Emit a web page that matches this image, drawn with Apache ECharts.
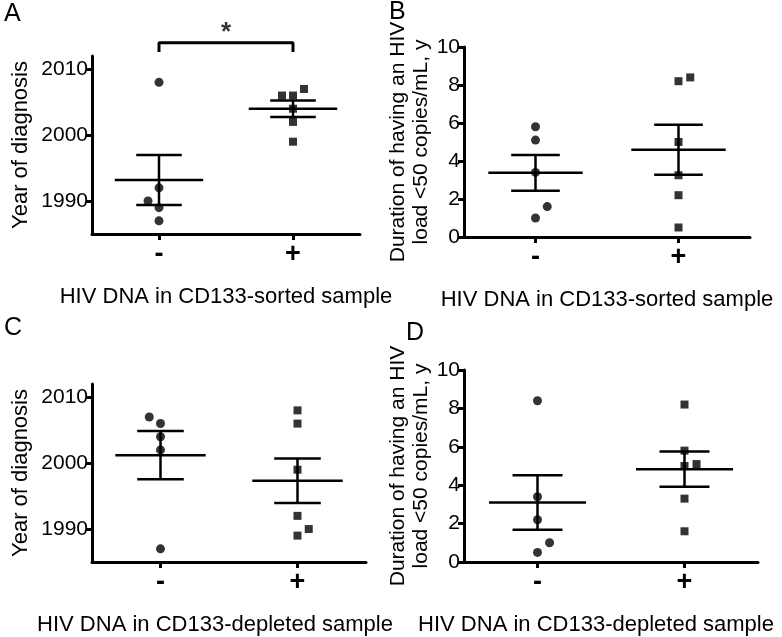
<!DOCTYPE html>
<html><head><meta charset="utf-8">
<script src="https://cdn.jsdelivr.net/npm/echarts@6/dist/echarts.min.js"></script>
<style>html,body{margin:0;padding:0;background:#fff}#c{width:782px;height:637px}</style>
</head><body><div id="c"></div>
<script>
// ---- data ----
const groupLabels = ['-', '+'];
const groupPos = [0.5, 1.5];
const yearTicks = [1990, 2000, 2010];
const durationTicks = [0, 2, 4, 6, 8, 10];

// Panel A: Year of diagnosis, CD133-sorted
const aNeg = [2008, 1992, 1990, 1989, 1987];
const aNegSlot = [0, 0, -1, 0, 0];
const aPos = [2006, 2006, 2007, 2004, 2002, 1999];
const aPosSlot = [-1, 0, 1, 0, 0, 0];
// Panel B: Duration <50 copies/mL, CD133-sorted
const bNeg = [5.8, 5.1, 3.4, 1.6, 1.0];
const bNegSlot = [0, 0, 0, 1, 0];
const bPos = [8.2, 8.4, 5.0, 3.25, 2.2, 0.5];
const bPosSlot = [0, 1, 0, 0, 0, 0];
// Panel C: Year of diagnosis, CD133-depleted
const cNeg = [2007, 2006, 2004, 2002, 1987];
const cNegSlot = [-1, 0, 0, 0, 0];
const cPos = [2008, 2006, 1999, 1992, 1990, 1989];
const cPosSlot = [0, 0, 0, 0, 1, 0];
// Panel D: Duration <50 copies/mL, CD133-depleted
const dNeg = [8.4, 3.4, 2.2, 1.0, 0.5];
const dNegSlot = [0, 0, 0, 1, 0];
const dPos = [8.2, 5.8, 5.0, 5.1, 3.3, 1.6];
const dPosSlot = [0, 0, 0, 1, 0, 0];

const sigBracketA = [[0.5, 2012.6], [0.5, 2014.0], [1.5, 2014.0], [1.5, 2012.6]];
const sigLabelA = '*';

// ---- helpers ----
const FONT = 'Liberation Sans, Arial, Helvetica, sans-serif';
const SLOT = 0.082;
function stats(arr) {
  const n = arr.length;
  const m = arr.reduce((a, b) => a + b, 0) / n;
  const v = arr.reduce((a, b) => a + (b - m) * (b - m), 0) / (n - 1);
  const sem = Math.sqrt(v / n);
  return [m, m - sem, m + sem];
}
function pts(vals, slots, g) {
  return vals.map((v, i) => [groupPos[g] + slots[i] * SLOT, v]);
}

const grids = [
  {left: 92, top: 56, width: 268, height: 178},
  {left: 464, top: 47, width: 286, height: 190},
  {left: 92, top: 384, width: 274, height: 181},
  {left: 464, top: 370, width: 294, height: 194}
];
const xTitles = ['HIV DNA in CD133-sorted sample', 'HIV DNA in CD133-sorted sample',
                 'HIV DNA in CD133-depleted sample', 'HIV DNA in CD133-depleted sample'];
const xTitleShift = [0, 0, 28, 30];
const yTitles = ['Year of diagnosis', 'Duration of having an HIV\nload <50 copies/mL, y',
                 'Year of diagnosis', 'Duration of having an HIV\nload <50 copies/mL, y'];
const panelData = [[aNeg, aNegSlot, aPos, aPosSlot], [bNeg, bNegSlot, bPos, bPosSlot],
                   [cNeg, cNegSlot, cPos, cPosSlot], [dNeg, dNegSlot, dPos, dPosSlot]];

const axisLineStyle = {color: '#000', width: 3};
const xAxes = grids.map((g, i) => ({
  type: 'value', gridIndex: i, min: 0, max: 2,
  name: xTitles[i], nameLocation: 'middle', nameGap: 52,
  nameTextStyle: {fontFamily: FONT, fontSize: 22, color: '#000', padding: [0, xTitleShift[i], 0, 0]},
  axisLine: {show: true, lineStyle: axisLineStyle},
  axisTick: {show: true, customValues: groupPos, length: 6, lineStyle: {color: '#000', width: 3}},
  axisLabel: {customValues: groupPos, margin: 7, fontFamily: FONT, fontSize: 27, fontWeight: 'bold', color: '#000',
    formatter: v => groupLabels[groupPos.indexOf(v)]},
  splitLine: {show: false}
}));
const yAxes = grids.map((g, i) => {
  const isYear = (i % 2 === 0);
  return {
    type: 'value', gridIndex: i,
    min: isYear ? 1985 : 0, max: isYear ? 2012 : 10,
    name: yTitles[i], nameLocation: 'middle', nameGap: isYear ? 60 : 25,
    nameTextStyle: {fontFamily: FONT, fontSize: isYear ? 22 : 21, color: '#000', lineHeight: 23},
    axisLine: {show: true, lineStyle: axisLineStyle},
    axisTick: {show: true, customValues: isYear ? yearTicks : durationTicks, length: 6, lineStyle: {color: '#000', width: 3}},
    axisLabel: {customValues: isYear ? yearTicks : durationTicks, margin: 4, fontFamily: FONT, fontSize: 21, color: '#000',
      formatter: v => String(v)},
    splitLine: {show: false}
  };
});

const series = [];
panelData.forEach((pd, i) => {
  const [neg, negSlot, pos, posSlot] = pd;
  series.push({type: 'scatter', xAxisIndex: i, yAxisIndex: i, symbol: 'circle', symbolSize: 9,
    itemStyle: {color: '#000'}, data: pts(neg, negSlot, 0), z: 3});
  series.push({type: 'scatter', xAxisIndex: i, yAxisIndex: i, symbol: 'rect', symbolSize: 8,
    itemStyle: {color: '#000'}, data: pts(pos, posSlot, 1), z: 3});
  const s0 = stats(neg), s1 = stats(pos);
  series.push({type: 'custom', xAxisIndex: i, yAxisIndex: i, z: 4,
    data: [[groupPos[0], ...s0], [groupPos[1], ...s1]],
    renderItem: function (params, api) {
      const x = api.value(0), m = api.value(1), lo = api.value(2), hi = api.value(3);
      const st = {stroke: '#000', lineWidth: 2.5};
      const L = (x1, y1, x2, y2) => {
        const p1 = api.coord([x1, y1]), p2 = api.coord([x2, y2]);
        return {type: 'line', shape: {x1: p1[0], y1: p1[1], x2: p2[0], y2: p2[1]}, style: st};
      };
      return {type: 'group', children: [
        L(x - 0.33, m, x + 0.33, m),
        L(x - 0.17, hi, x + 0.17, hi),
        L(x - 0.17, lo, x + 0.17, lo),
        L(x, lo, x, hi)
      ]};
    }
  });
});
series.push({type: 'line', xAxisIndex: 0, yAxisIndex: 0, data: sigBracketA, clip: false,
  symbol: 'none', lineStyle: {color: '#000', width: 3}, z: 5});
series.push({type: 'scatter', xAxisIndex: 0, yAxisIndex: 0, data: [[1, sigBracketA[1][1]]], clip: false,
  symbolSize: 1, itemStyle: {color: 'rgba(0,0,0,0)'},
  label: {show: true, position: 'top', distance: -4, formatter: sigLabelA, fontFamily: FONT, fontSize: 26, fontWeight: 'bold', color: '#000'}});

const letters = [['A', 4, 2], ['B', 389, 0], ['C', 4, 316], ['D', 406, 321]];
const option = {
  animation: false,
  backgroundColor: '#fff',
  grid: grids.map(g => Object.assign({containLabel: false}, g)),
  xAxis: xAxes, yAxis: yAxes, series: series,
  graphic: letters.map(l => ({type: 'text', left: l[1], top: l[2],
    style: {text: l[0], fontFamily: FONT, fontSize: 25, fill: '#000'}}))
};
const chart = echarts.init(document.getElementById('c'), null, {renderer: 'canvas'});
chart.setOption(option);
</script></body></html>
